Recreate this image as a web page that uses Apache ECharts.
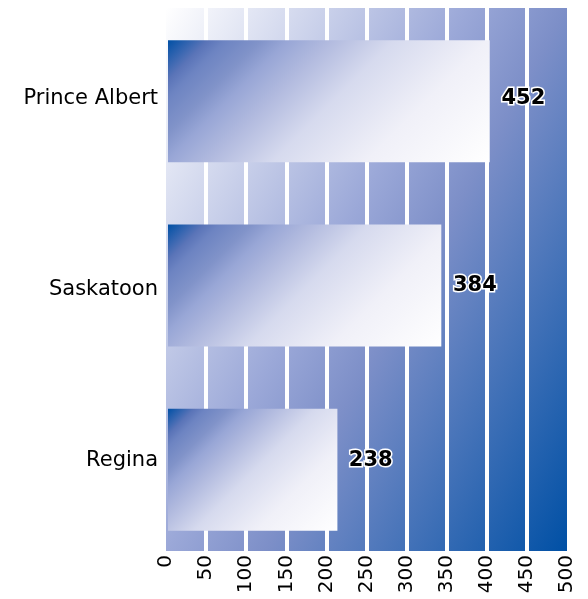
<!DOCTYPE html>
<html>
<head>
<meta charset="utf-8">
<script src="https://cdn.jsdelivr.net/npm/echarts@6/dist/echarts.min.js"></script>
<style>html,body{margin:0;padding:0;background:#fff;}#c{width:588px;height:599px;}</style>
</head>
<body>
<div id="c"></div>
<script>
const categories = ['Prince Albert', 'Saskatoon', 'Regina'];
const values = [452, 384, 238];
const tickMin = 0, tickMax = 500, tickStep = 50;
const barAxisMax = 562;

const FONT = '"DejaVu Sans", sans-serif';
const chart = echarts.init(document.getElementById('c'), null, {renderer: 'canvas'});

// background gradient in canvas pixels (grid area 166..567 x 8..551)
const bgGradient = {
  type: 'linear', global: true, x: 166, y: 8, x2: 703, y2: 306,
  colorStops: [
    {offset: 0, color: '#ffffff'},
    {offset: 0.43, color: '#9ba8d8'},
    {offset: 0.57, color: '#7d8fc8'},
    {offset: 1, color: '#0050a5'}
  ]
};
const barStops = [
  {offset: 0, color: '#0050a5'},
  {offset: 0.09, color: '#5a74b8'},
  {offset: 0.13, color: '#6d84c2'},
  {offset: 0.21, color: '#8193c9'},
  {offset: 0.27, color: '#98a6d6'},
  {offset: 0.36, color: '#b0b9de'},
  {offset: 0.51, color: '#d6daee'},
  {offset: 0.72, color: '#f0f0f8'},
  {offset: 1, color: '#ffffff'}
];
const BAR_W = 122, PLOT_W = 400;
function barColor(params) {
  const w = Math.max(1, params.value / barAxisMax * PLOT_W);
  const s = (w + BAR_W) / 2;
  return {type: 'linear', x: 0, y: 0, x2: s / w, y2: s / BAR_W, colorStops: barStops};
}

chart.setOption({
  animation: false,
  grid: [
    {left: 166, top: 8, width: 401, height: 543, show: true, backgroundColor: bgGradient, borderWidth: 0},
    {left: 168, top: 9, width: PLOT_W, height: 553}
  ],
  xAxis: [
    {
      gridIndex: 0, type: 'value', min: tickMin, max: tickMax, interval: tickStep,
      axisLine: {show: false}, axisTick: {show: false},
      splitLine: {show: true, showMinLine: false, showMaxLine: false, lineStyle: {color: '#ffffff', width: 4}},
      axisLabel: {rotate: 90, fontSize: 20, color: '#000', margin: 4, fontFamily: FONT}
    },
    {gridIndex: 1, type: 'value', min: 0, max: barAxisMax, show: false},
    {gridIndex: 0, type: 'value', min: 0, max: barAxisMax, show: false}
  ],
  yAxis: [
    {
      gridIndex: 0, type: 'category', data: categories, inverse: true,
      axisLine: {show: false}, axisTick: {show: false}, splitLine: {show: false},
      axisLabel: {
        fontSize: 21, color: '#000', margin: 8, fontFamily: FONT,
        formatter: (v, i) => i === 1 ? '{low|' + v + '}' : v,
        rich: {low: {fontSize: 21, fontFamily: FONT, color: '#000', padding: [20, 0, 0, 0]}}
      }
    },
    {gridIndex: 1, type: 'category', data: categories, inverse: true, show: false}
  ],
  series: [
    {
      type: 'bar', xAxisIndex: 1, yAxisIndex: 1, data: values, barWidth: BAR_W,
      itemStyle: {color: barColor}
    },
    {
      type: 'bar', xAxisIndex: 2, yAxisIndex: 0, data: values, barWidth: 1,
      itemStyle: {color: 'rgba(0,0,0,0)'},
      label: {
        show: true, position: 'right', distance: 13,
        fontSize: 21, fontWeight: 'bold', color: '#000', fontFamily: FONT,
        textBorderColor: '#ffffff', textBorderWidth: 3,
        formatter: p => p.dataIndex === 1 ? '{low|' + p.value + '}' : String(p.value),
        rich: {low: {fontSize: 21, fontWeight: 'bold', color: '#000', fontFamily: FONT,
                     textBorderColor: '#ffffff', textBorderWidth: 3, padding: [12, 0, 0, 0]}}
      }
    }
  ]
});
</script>
</body>
</html>
